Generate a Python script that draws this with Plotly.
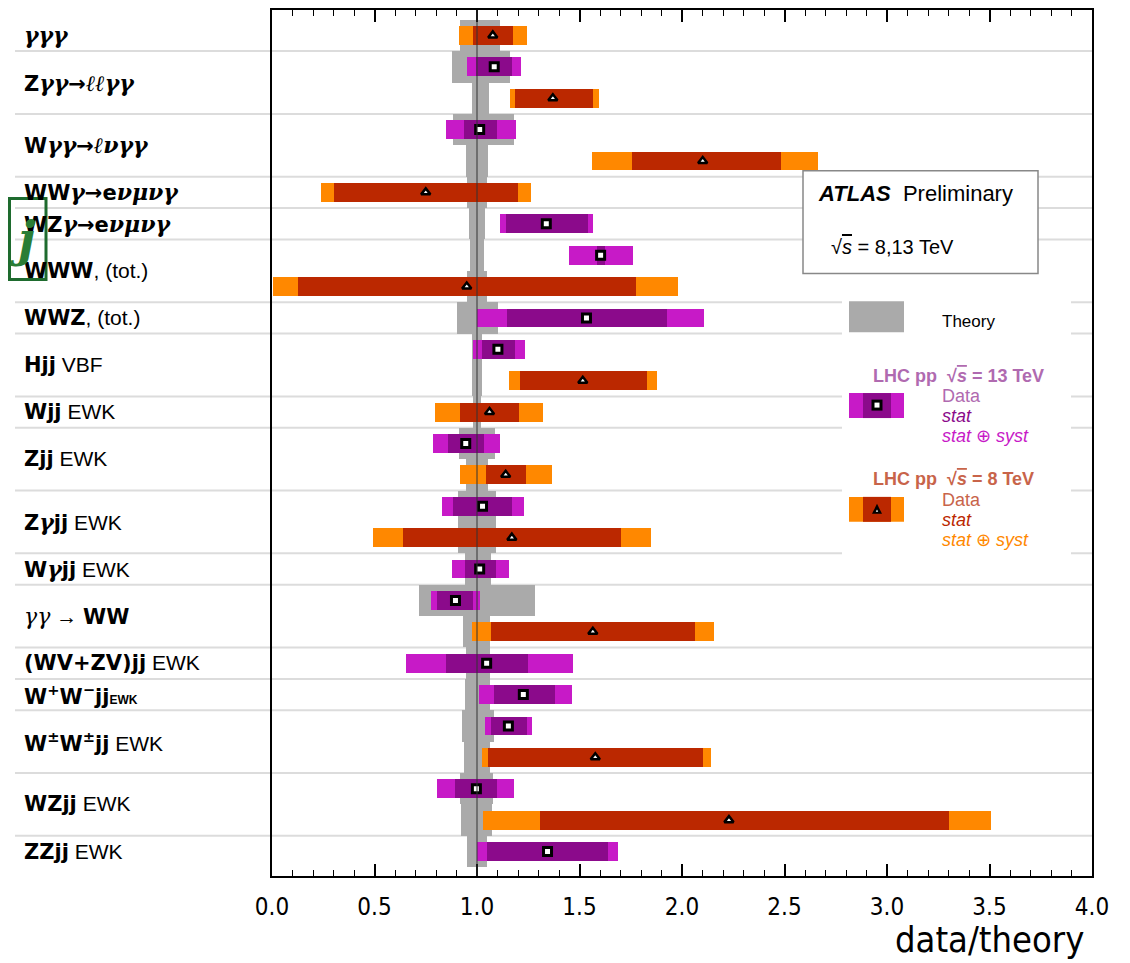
import plotly.graph_objects as go

# ---------------- data ----------------
G = lambda s: f"<span style='font-family:DejaVu Serif, Liberation Serif;font-size:22px'><i>{s}</i></span>"
Bd = lambda s: f"<span style='font-family:DejaVu Sans'><b>{s}</b></span>"
processes = [
    Bd(G('γγγ')),
    Bd(f"Z{G('γγ')}→{G('ℓℓγγ')}"),
    Bd(f"W{G('γγ')}→{G('ℓνγγ')}"),
    Bd(f"WW{G('γ')}→e{G('νμνγ')}"),
    Bd(f"WZ{G('γ')}→e{G('νμνγ')}"),
    Bd("WWW") + ", (tot.)",
    Bd("WWZ") + ", (tot.)",
    Bd("Hjj") + " VBF",
    Bd("Wjj") + " EWK",
    Bd("Zjj") + " EWK",
    Bd(f"Z{G('γ')}jj") + " EWK",
    Bd(f"W{G('γ')}jj") + " EWK",
    f"{G('γγ')} → " + Bd("WW"),
    Bd("(WV+ZV)jj") + " EWK",
    Bd("W<sup>+</sup>W<sup>−</sup>jj") + "<span style='font-size:12px'><b>EWK</b></span>",
    Bd("W<sup>±</sup>W<sup>±</sup>jj") + " EWK",
    Bd("WZjj") + " EWK",
    Bd("ZZjj") + " EWK",
]
meas_proc  = [0, 1, 1, 2, 2, 3, 4, 5, 5, 6, 7, 7, 8, 9, 9, 10, 10, 11, 12, 12, 13, 14, 15, 15, 16, 16, 17]
meas_sqrts = [8, 13, 8, 13, 8, 8, 13, 13, 8, 13, 13, 8, 8, 13, 8, 13, 8, 13, 13, 8, 13, 13, 13, 8, 13, 8, 13]
central = [1.077, 1.084, 1.370, 1.013, 2.101, 0.750, 1.338, 1.603, 0.950, 1.534, 1.102, 1.516, 1.061, 0.945,
           1.140, 1.027, 1.170, 1.013, 0.895, 1.565, 1.047, 1.226, 1.153, 1.577, 0.997, 2.229, 1.344]
stat_lo = [0.980, 0.997, 1.187, 0.935, 1.755, 0.302, 1.140, 1.583, 0.127, 1.145, 1.023, 1.211, 0.916, 0.859,
           1.044, 0.885, 0.640, 0.940, 0.807, 1.068, 0.849, 1.081, 1.067, 1.052, 0.895, 1.307, 1.049]
stat_hi = [1.176, 1.172, 1.567, 1.097, 2.481, 1.200, 1.541, 1.622, 1.776, 1.925, 1.187, 1.830, 1.206, 1.036,
           1.237, 1.172, 1.701, 1.091, 0.982, 2.065, 1.248, 1.382, 1.242, 2.103, 1.096, 3.302, 1.638]
tot_lo = [0.912, 0.953, 1.160, 0.848, 1.562, 0.237, 1.114, 1.447, 0.006, 1.000, 0.979, 1.156, 0.797, 0.783,
          0.917, 0.828, 0.492, 0.877, 0.775, 0.976, 0.656, 1.010, 1.039, 1.023, 0.807, 1.029, 1.000]
tot_hi = [1.244, 1.215, 1.596, 1.189, 2.663, 1.265, 1.565, 1.760, 1.980, 2.107, 1.236, 1.878, 1.323, 1.110,
          1.364, 1.229, 1.849, 1.154, 1.013, 2.158, 1.468, 1.461, 1.268, 2.143, 1.182, 3.507, 1.689]
theo_lo = [0.917, 0.877, 0.974, 0.881, 0.946, 0.953, 0.959, 0.964, 0.953, 0.900, 0.977, 0.977, 0.980, 0.910,
           0.946, 0.905, 0.905, 0.940, 0.716, 0.934, 0.945, 0.941, 0.927, 0.937, 0.919, 0.924, 0.953]
theo_hi = [1.112, 1.160, 1.058, 1.181, 1.054, 1.050, 1.040, 1.034, 1.050, 1.100, 1.024, 1.024, 1.020, 1.090,
           1.052, 1.095, 1.095, 1.067, 1.284, 1.062, 1.062, 1.062, 1.085, 1.062, 1.080, 1.075, 1.050]
x_ticks = [0.0, 0.5, 1.0, 1.5, 2.0, 2.5, 3.0, 3.5, 4.0]
x_tick_labels = ["0.0", "0.5", "1.0", "1.5", "2.0", "2.5", "3.0", "3.5", "4.0"]

# ---------------- layout helpers ----------------
OFF = 8                      # page body margin
W, H = 1130 - OFF, 963 - OFF
L, R, T, B = 272 - OFF, 38, 0, 87
PW, PH = W - L - R, H - T - B
def px(x): return (x - OFF - L) / PW          # screen px -> paper x
def py(y): return 1 - (y - OFF - T) / PH      # screen px -> paper y

C13_TOT, C13_STAT = "#c71ac7", "#8b0a8b"
C8_TOT, C8_STAT = "#ff8800", "#bb2800"
C_THEO = "#aaaaaa"

slots = list(range(len(central)))
idx13 = [i for i in slots if meas_sqrts[i] == 13]
idx8 = [i for i in slots if meas_sqrts[i] == 8]

fig = go.Figure()
fig.add_trace(go.Bar(orientation="h", y=slots, base=theo_lo,
                     x=[h - l for l, h in zip(theo_lo, theo_hi)], width=1.0,
                     marker=dict(color=C_THEO, line_width=0), hoverinfo="skip", showlegend=False))
fig.add_trace(go.Bar(orientation="h", y=slots, base=tot_lo,
                     x=[h - l for l, h in zip(tot_lo, tot_hi)], width=0.6,
                     marker=dict(color=[C13_TOT if s == 13 else C8_TOT for s in meas_sqrts], line_width=0),
                     hoverinfo="skip", showlegend=False))
fig.add_trace(go.Bar(orientation="h", y=slots, base=stat_lo,
                     x=[h - l for l, h in zip(stat_lo, stat_hi)], width=0.6,
                     marker=dict(color=[C13_STAT if s == 13 else C8_STAT for s in meas_sqrts], line_width=0),
                     hoverinfo="skip", showlegend=False))
fig.add_trace(go.Scatter(x=[central[i] for i in idx13], y=idx13, mode="markers",
                         marker=dict(symbol="square", size=8, color="white", line=dict(color="black", width=3)),
                         showlegend=False, hoverinfo="skip"))
fig.add_trace(go.Scatter(x=[central[i] for i in idx8], y=idx8, mode="markers",
                         marker=dict(symbol="triangle-up", size=8, color="white", line=dict(color="black", width=2.5)),
                         showlegend=False, hoverinfo="skip"))

shapes = []
annotations = []
# row separators
for p in range(len(processes) - 1):
    last = max(i for i in slots if meas_proc[i] == p)
    shapes.append(dict(type="line", xref="paper", yref="y", x0=px(15), x1=1.0, y0=last + 0.5, y1=last + 0.5,
                       line=dict(color="#dcdcdc", width=2), layer="below"))
# legend background (hides separators)
shapes.append(dict(type="rect", xref="paper", yref="paper", x0=px(842), x1=px(1071), y0=py(565), y1=py(288),
                   fillcolor="white", line_width=0, layer="below"))
# ATLAS box
shapes.append(dict(type="rect", xref="paper", yref="paper", x0=px(803), x1=px(1038), y0=py(272), y1=py(169),
                   fillcolor="white", line=dict(color="#888888", width=1.5), layer="below"))
# vertical line at 1
shapes.append(dict(type="line", xref="x", yref="paper", x0=1, x1=1, y0=0, y1=1,
                   line=dict(color="#333333", width=1), layer="above"))
# legend icons
shapes.append(dict(type="rect", xref="paper", yref="paper", x0=px(849), x1=px(904), y0=py(331), y1=py(300),
                   fillcolor=C_THEO, line_width=0))
for (ytop, ybot, ctot, cstat) in [(392, 417, C13_TOT, C13_STAT), (496, 521, C8_TOT, C8_STAT)]:
    shapes.append(dict(type="rect", xref="paper", yref="paper", x0=px(849), x1=px(904), y0=py(ybot), y1=py(ytop),
                       fillcolor=ctot, line_width=0))
    shapes.append(dict(type="rect", xref="paper", yref="paper", x0=px(863), x1=px(891), y0=py(ybot), y1=py(ytop),
                       fillcolor=cstat, line_width=0))
shapes.append(dict(type="rect", xref="paper", yref="paper", x0=px(871.5), x1=px(882.5), y0=py(409.5), y1=py(398.5),
                   fillcolor="black", line_width=0))
shapes.append(dict(type="rect", xref="paper", yref="paper", x0=px(874.5), x1=px(879.5), y0=py(406.5), y1=py(401.5),
                   fillcolor="white", line_width=0))
shapes.append(dict(type="path", xref="paper", yref="paper",
                   path=f"M {px(872)} {py(513)} L {px(882)} {py(513)} L {px(877)} {py(503)} Z",
                   fillcolor="black", line_width=0))
shapes.append(dict(type="path", xref="paper", yref="paper",
                   path=f"M {px(875.8)} {py(511)} L {px(878.2)} {py(511)} L {px(877)} {py(508.6)} Z",
                   fillcolor="white", line_width=0))
# green selection box
shapes.append(dict(type="rect", xref="paper", yref="paper", x0=px(9.5), x1=px(46), y0=py(278), y1=py(197),
                   line=dict(color="#1e6b2e", width=3), fillcolor="rgba(0,0,0,0)", layer="above"))

# row labels
for p, lab in enumerate(processes):
    ss = [i for i in slots if meas_proc[i] == p]
    annotations.append(dict(text=lab, xref="paper", yref="y", x=px(22), y=sum(ss) / len(ss),
                            xanchor="left", yanchor="middle", showarrow=False,
                            font=dict(family="Liberation Sans, Arial", size=21, color="black")))

def ann(text, x, y, size, color="black", anchor="left", family="Liberation Sans, Arial"):
    annotations.append(dict(text=text, xref="paper", yref="paper", x=px(x), y=py(y), xanchor=anchor,
                            yanchor="middle", showarrow=False, font=dict(family=family, size=size, color=color)))

sqs = "√<span style='text-decoration:overline'><i>s</i></span>"
ann("<b><i>ATLAS</i></b>  Preliminary", 816, 192, 22)
ann(f"{sqs} = 8,13 TeV", 829, 246, 20)
ann("Theory", 940, 320, 17)
P13, P8 = "#b06ab0", "#c8644a"
ann(f"<b>LHC pp  {sqs} = 13 TeV</b>", 871, 375, 18, P13)
ann("Data", 940, 395, 18, P13)
ann("<i>stat</i>", 940, 415, 18, C13_STAT)
ann("<i>stat</i> ⊕ <i>syst</i>", 940, 435, 18, C13_TOT)
ann(f"<b>LHC pp  {sqs} = 8 TeV</b>", 871, 478, 18, P8)
ann("Data", 940, 499, 18, P8)
ann("<i>stat</i>", 940, 519, 18, C8_STAT)
ann("<i>stat</i> ⊕ <i>syst</i>", 940, 539, 18, C8_TOT)
ann("data/theory", 1086, 940, 36, anchor="right", family="Liberation Sans Narrow, DejaVu Sans Condensed, sans-serif")
ann("<b><i>j</i></b>", 8, 238, 48, "#2a7d35", anchor="left", family="DejaVu Serif, Liberation Serif")

fig.update_layout(
    width=W, height=H, margin=dict(l=L, r=R, t=T, b=B, pad=0),
    paper_bgcolor="white", plot_bgcolor="white", barmode="overlay", bargap=0,
    shapes=shapes, annotations=annotations, showlegend=False,
)
fig.update_xaxes(range=[0, 4], tickvals=x_ticks, ticktext=x_tick_labels, ticks="inside", ticklen=12,
                 tickwidth=1.5, tickcolor="black",
                 minor=dict(tick0=0, dtick=0.1, ticks="inside", ticklen=6, tickwidth=1, tickcolor="black"),
                 showline=True, linecolor="black", linewidth=2, mirror="ticks", showgrid=False, zeroline=False,
                 tickfont=dict(family="Liberation Sans Narrow, DejaVu Sans Condensed, sans-serif", size=24,
                               color="black"),
                 ticklabelstandoff=8)
fig.update_yaxes(range=[26.78, -0.81], showticklabels=False, ticks="", showgrid=False, zeroline=False,
                 showline=True, linecolor="black", linewidth=2, mirror=True)

fig.write_html("out.html")
